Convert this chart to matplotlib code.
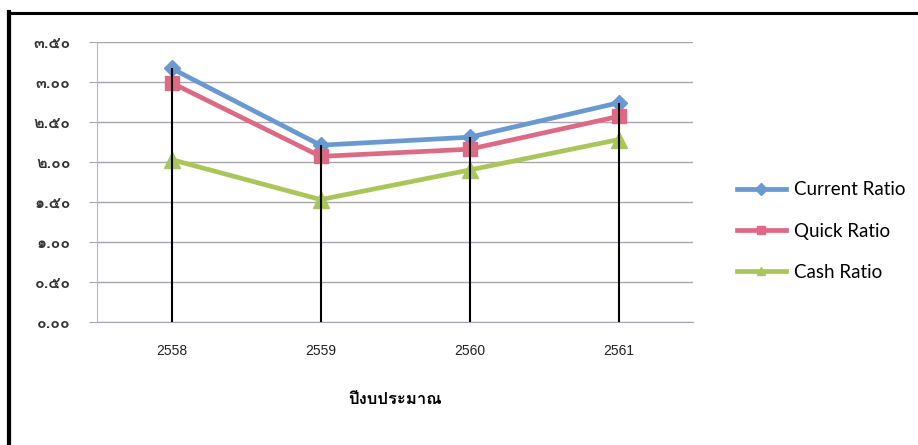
import matplotlib
matplotlib.use("Agg")
import matplotlib.pyplot as plt
from matplotlib import font_manager
from matplotlib.ft2font import FT2Font
from matplotlib.lines import Line2D

years = ["2558", "2559", "2560", "2561"]
current_ratio = [3.17, 2.21, 2.31, 2.74]
quick_ratio = [2.99, 2.07, 2.16, 2.57]
cash_ratio = [2.03, 1.53, 1.90, 2.28]
y_ticks = [0.0, 0.5, 1.0, 1.5, 2.0, 2.5, 3.0, 3.5]
x_title = "ปีงบประมาณ"

THAI_DIGITS = str.maketrans("0123456789", "๐๑๒๓๔๕๖๗๘๙")


def find_thai_font():
    # look for any installed font that has Thai glyphs
    for f in font_manager.fontManager.ttflist:
        try:
            cmap = FT2Font(f.fname).get_charmap()
        except Exception:
            continue
        if 0x0E1B in cmap and 0x0E53 in cmap:
            return f.name
    return None


thai_font = find_thai_font()
thai_family = ([thai_font] if thai_font else []) + ["DejaVu Sans"]


def main():
    fig = plt.figure(figsize=(9.18, 4.45), dpi=100)
    ax = fig.add_axes([0.1057, 0.2764, 0.6493, 0.6292])

    x = list(range(len(years)))
    ax.plot(x, current_ratio, color="#6a98d0", lw=3.4, marker="D", ms=8, label="Current Ratio", zorder=3)
    ax.plot(x, quick_ratio, color="#dd6a85", lw=3.4, marker="s", ms=10, label="Quick Ratio", zorder=3)
    ax.plot(x, cash_ratio, color="#aac65a", lw=3.4, marker="^", ms=11, label="Cash Ratio", zorder=3)

    # black drop lines from the top series down to the axis
    ax.vlines(x, 0, current_ratio, color="black", lw=1.5, zorder=4)

    ax.set_xlim(-0.5, len(years) - 0.5)
    ax.set_ylim(0, 3.5)
    ax.set_yticks(y_ticks)
    ax.set_yticklabels([("%.2f" % v).translate(THAI_DIGITS) for v in y_ticks],
                       family=thai_family, fontsize=11.5, fontweight="bold", color="#333333")
    ax.set_xticks(x)
    ax.set_xticklabels(years, family="Liberation Sans", fontsize=10, color="#222222")
    ax.tick_params(axis="x", length=0, pad=16)
    ax.tick_params(axis="y", length=6, color="#a8a4b0", pad=13)

    ax.grid(axis="y", color="#a8a4b0", lw=1)
    ax.set_axisbelow(True)
    for side in ["top", "right"]:
        ax.spines[side].set_visible(False)
    ax.spines["left"].set_color("#bbbbbb")
    ax.spines["bottom"].set_color("#a8a4b0")

    ax.set_xlabel(x_title, family=thai_family, fontsize=12, fontweight="bold", labelpad=24)

    leg = ax.legend(loc="center left", bbox_to_anchor=(1.045, 0.325), frameon=False,
                    prop={"family": "Lato", "size": 13.5}, handlelength=2.6,
                    handletextpad=0.45, labelspacing=1.3)
    for h in leg.legend_handles:
        h.set_markersize(6)

    # frame of the scanned picture
    fig.add_artist(Line2D([0.0095, 0.0095], [0.0, 0.972], color="black", lw=3, transform=fig.transFigure))
    fig.add_artist(Line2D([0.0085, 1.0], [0.971, 0.971], color="black", lw=2.2, transform=fig.transFigure))

    fig.savefig("out.png", dpi=100)


if __name__ == "__main__":
    main()
